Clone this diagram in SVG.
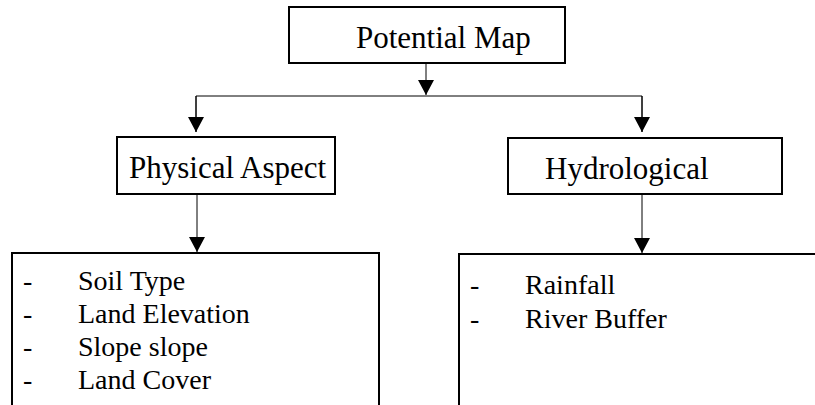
<svg xmlns="http://www.w3.org/2000/svg" width="815" height="405" viewBox="0 0 815 405">
<style>
.box{fill:#fff;stroke:#000;stroke-width:2}
.h{font-family:"Liberation Serif","Times New Roman",serif;font-size:31px;fill:#000}
.l{font-family:"Liberation Serif","Times New Roman",serif;font-size:28px;fill:#000}
.c{fill:none;stroke:#000;stroke-width:1}
</style>
<defs>
<marker id="ah" markerUnits="userSpaceOnUse" markerWidth="16" markerHeight="16" refX="15" refY="8" orient="auto">
<path d="M0,0 L15,8 L0,16 Z" fill="#000"/>
</marker>
</defs>
<rect width="815" height="405" fill="#fff"/>
<g id="connectors">
<path class="c" d="M426,63 V95" marker-end="url(#ah)"/>
<path class="c" d="M196,132 V96 H642 V132" />
<path class="c" d="M196,96 V132" marker-end="url(#ah)"/>
<path class="c" d="M642,96 V132" marker-end="url(#ah)"/>
<path class="c" d="M197,194 V252" marker-end="url(#ah)"/>
<path class="c" d="M642,194 V253" marker-end="url(#ah)"/>
</g>
<g id="potential-map">
<rect class="box" x="289" y="7" width="276" height="56"/>
<text class="h" x="356" y="48">Potential Map</text>
</g>
<g id="physical-aspect">
<rect class="box" x="117" y="137" width="218" height="57"/>
<text class="h" x="129" y="178">Physical Aspect</text>
</g>
<g id="hydrological">
<rect class="box" x="508" y="138" width="274" height="56"/>
<text class="h" x="545" y="179">Hydrological</text>
</g>
<g id="physical-list">
<rect class="box" x="12" y="253" width="367" height="170"/>
<text class="l" x="23" y="290">-</text><text class="l" x="78" y="290">Soil Type</text>
<text class="l" x="23" y="323">-</text><text class="l" x="78" y="323">Land Elevation</text>
<text class="l" x="23" y="356">-</text><text class="l" x="78" y="356">Slope slope</text>
<text class="l" x="23" y="389">-</text><text class="l" x="78" y="389">Land Cover</text>
</g>
<g id="hydrological-list">
<rect class="box" x="459" y="254" width="380" height="170"/>
<text class="l" x="470" y="294">-</text><text class="l" x="525" y="294">Rainfall</text>
<text class="l" x="470" y="328">-</text><text class="l" x="525" y="328">River Buffer</text>
</g>
</svg>
